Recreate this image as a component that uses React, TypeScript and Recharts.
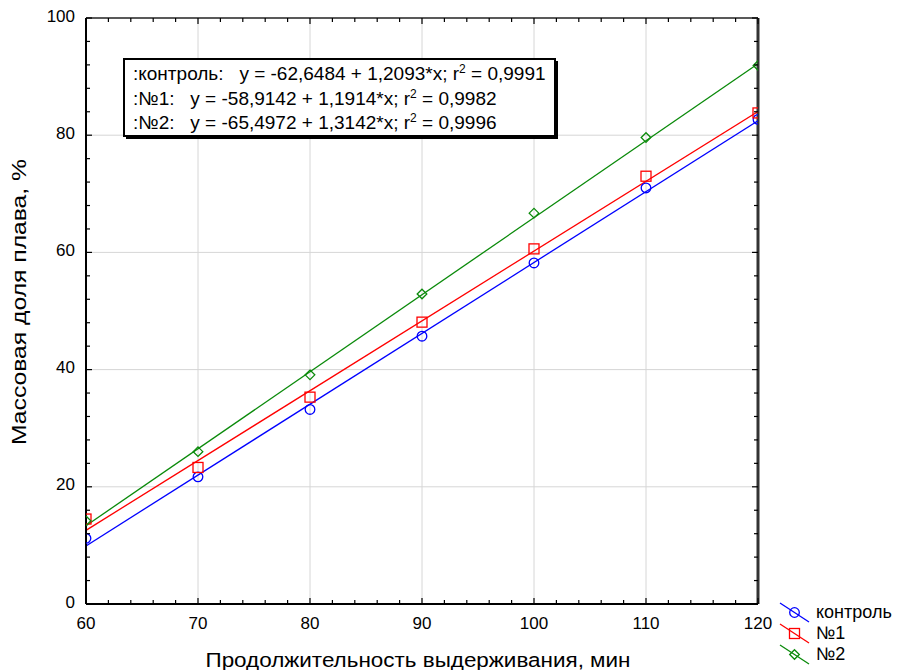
import { ComposedChart, Line, Scatter, XAxis, YAxis, ReferenceLine } from 'recharts';

// observed points, x = minutes
const minutes = [60, 70, 80, 90, 100, 110, 120];
const control = [11.2, 21.7, 33.2, 45.7, 58.2, 71.0, 82.7];
const sample1 = [14.5, 23.3, 35.3, 48.1, 60.6, 73.0, 83.8];
const sample2 = [14.2, 26.0, 39.1, 52.9, 66.7, 79.6, 91.9];

// regression coefficients printed on the chart
const intercepts = [-62.6484, -58.9142, -65.4972];
const slopes = [1.2093, 1.1914, 1.3142];
const equations = [
    { head: ':контроль:\u00a0\u00a0\u00a0y = -62,6484 + 1,2093*x; r', tail: ' = 0,9991' },
    { head: ':№1:\u00a0\u00a0\u00a0y = -58,9142 + 1,1914*x; r', tail: ' = 0,9982' },
    { head: ':№2:\u00a0\u00a0\u00a0y = -65,4972 + 1,3142*x; r', tail: ' = 0,9996' },
];

const xTicks = [60, 62, 64, 66, 68, 70, 72, 74, 76, 78, 80, 82, 84, 86, 88, 90, 92, 94, 96, 98, 100, 102, 104, 106, 108, 110, 112, 114, 116, 118, 120];
const yTicks = [0, 4, 8, 12, 16, 20, 24, 28, 32, 36, 40, 44, 48, 52, 56, 60, 64, 68, 72, 76, 80, 84, 88, 92, 96, 100];
const xGrid = [70, 80, 90, 100, 110];
const yGrid = [20, 40, 60, 80];

const FONT = '"Liberation Sans", Arial, sans-serif';
const TOP = 18;
const BOTTOM = 604;
const LEFT = 86;
const RIGHT = 758;

const series = [
    { name: 'контроль', color: '#0000ff', shape: 'circle', values: control },
    { name: '№1', color: '#ff0000', shape: 'square', values: sample1 },
    { name: '№2', color: '#0a8a0a', shape: 'diamond', values: sample2 },
];

const toPoints = (vals: number[]) => minutes.map((m, i) => ({ x: m, y: vals[i] }));
const fitLine = (i: number) => [60, 120].map(m => ({ x: m, y: intercepts[i] + slopes[i] * m }));

const Marker = ({ cx, cy, shape, color }: any) => {
    if (cx == null || cy == null) return null;
    if (shape === 'circle') return <circle cx={cx} cy={cy} r={4.8} fill="none" stroke={color} strokeWidth={1.3} />;
    if (shape === 'square') return <rect x={cx - 5} y={cy - 5} width={10} height={10} fill="none" stroke={color} strokeWidth={1.3} />;
    return <polygon points={`${cx},${cy - 4.8} ${cx + 4.8},${cy} ${cx},${cy + 4.8} ${cx - 4.8},${cy}`} fill="none" stroke={color} strokeWidth={1.3} />;
};

const XTick = (props: any) => {
    const { x, y, payload } = props;
    const v = payload.value;
    const major = v % 10 === 0;
    const len = major ? 6 : 4;
    return (
        <g>
            <line x1={x} x2={x} y1={BOTTOM} y2={BOTTOM - len} stroke="#000" strokeWidth={1.2} />
            <line x1={x} x2={x} y1={TOP} y2={TOP + len} stroke="#000" strokeWidth={1.2} />
            {major && (
                <text x={x} y={y + 11} dominantBaseline="central" textAnchor="middle" fontSize={17} fontFamily={FONT} fill="#000">{v}</text>
            )}
        </g>
    );
};

const YTick = (props: any) => {
    const { x, y, payload } = props;
    const v = payload.value;
    const major = v % 20 === 0;
    const len = major ? 6 : 4;
    return (
        <g>
            <line x1={LEFT} x2={LEFT + len} y1={y} y2={y} stroke="#000" strokeWidth={1.2} />
            <line x1={RIGHT} x2={RIGHT - len} y1={y} y2={y} stroke="#000" strokeWidth={1.2} />
            {major && (
                <text x={x} y={y - 2} dominantBaseline="central" textAnchor="end" fontSize={17} fontFamily={FONT} fill="#000">{v}</text>
            )}
        </g>
    );
};

const LegendBox = () => (
    <div style={{ position: 'absolute', left: 778, top: 602, fontFamily: FONT, fontSize: 18, color: '#000' }}>
        {series.map(s => (
            <div key={s.name} style={{ display: 'flex', alignItems: 'center', height: 21 }}>
                <svg width={36} height={21}>
                    <line x1={2} y1={1} x2={31} y2={20} stroke={s.color} strokeWidth={1.3} />
                    <Marker cx={16.5} cy={10.5} shape={s.shape} color={s.color} />
                </svg>
                <span style={{ marginLeft: 2 }}>{s.name}</span>
            </div>
        ))}
    </div>
);

const Overlay = () => (
    <svg width={898} height={670} style={{ position: 'absolute', left: 0, top: 0, pointerEvents: 'none' }}>
        <rect x={126} y={61} width={432} height={78} fill="#000" />
        <rect x={124} y={59} width={431} height={77} fill="#fff" stroke="#000" strokeWidth={2} />
        {equations.map((e, i) => (
            <text key={i} x={133} y={80 + i * 24.5} fontSize={19} fontFamily={FONT} fill="#000">
                {e.head}
                <tspan fontSize={12} dy={-7}>2</tspan>
                <tspan dy={7}>{e.tail}</tspan>
            </text>
        ))}
        <text x={418} y={667} textAnchor="middle" fontSize={20.5} fontFamily={FONT} fill="#000" textLength={425} lengthAdjust="spacingAndGlyphs">
            Продолжительность выдерживания, мин
        </text>
        <text x={0} y={0} transform="translate(26, 302) rotate(-90)" textAnchor="middle" fontSize={20} fontFamily={FONT} fill="#000" textLength={286} lengthAdjust="spacingAndGlyphs">
            Массовая доля плава, %
        </text>
    </svg>
);

export default function App() {
    return (
        <div style={{ position: 'absolute', left: 0, top: 0, width: 898, height: 670, background: '#fff', overflow: 'hidden' }}>
            <ComposedChart width={898} height={670} margin={{ top: TOP, right: 898 - RIGHT, bottom: 0, left: 0 }}>
                <XAxis
                    type="number"
                    dataKey="x"
                    domain={[60, 120]}
                    ticks={xTicks}
                    interval={0}
                    height={670 - BOTTOM}
                    tickSize={0}
                    tickMargin={8}
                    tick={<XTick />}
                    axisLine={{ stroke: '#000', strokeWidth: 2 }}
                    tickLine={false}
                    allowDataOverflow
                />
                <YAxis
                    type="number"
                    domain={[0, 100]}
                    ticks={yTicks}
                    interval={0}
                    width={LEFT}
                    tickSize={0}
                    tickMargin={11}
                    tick={<YTick />}
                    axisLine={{ stroke: '#000', strokeWidth: 2 }}
                    tickLine={false}
                    allowDataOverflow
                />
                {xGrid.map(v => <ReferenceLine key={'gx' + v} x={v} stroke="#d6d6d6" strokeWidth={1} />)}
                {yGrid.map(v => <ReferenceLine key={'gy' + v} y={v} stroke="#d6d6d6" strokeWidth={1} />)}
                <ReferenceLine y={100} stroke="#222" strokeWidth={1.6} />
                <ReferenceLine x={120} stroke="#333" strokeWidth={3} />
                {series.map((s, i) => (
                    <Line
                        key={'fit' + i}
                        data={fitLine(i)}
                        dataKey="y"
                        type="linear"
                        stroke={s.color}
                        strokeWidth={1.3}
                        dot={false}
                        activeDot={false}
                        legendType="none"
                        isAnimationActive={false}
                    />
                ))}
                {series.map((s, i) => (
                    <Scatter
                        key={'pts' + i}
                        name={s.name}
                        data={toPoints(s.values)}
                        dataKey="y"
                        shape={(p: any) => <Marker cx={p.cx} cy={p.cy} shape={s.shape} color={s.color} />}
                        isAnimationActive={false}
                    />
                ))}
            </ComposedChart>
            <Overlay />
            <LegendBox />
        </div>
    );
}
